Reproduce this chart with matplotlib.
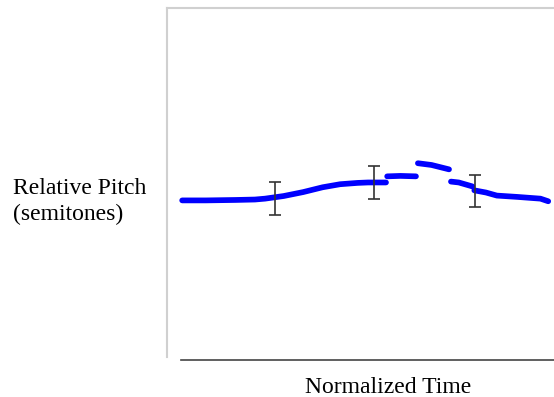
import matplotlib
matplotlib.use("Agg")
import matplotlib.pyplot as plt

# pitch contour pieces (normalized time, semitones)
seg1_t = [0.039, 0.100, 0.177, 0.226, 0.252, 0.300, 0.350, 0.400, 0.445, 0.490, 0.517, 0.563]
seg1_p = [-0.40, -0.40, -0.39, -0.38, -0.36, -0.30, -0.21, -0.10, -0.03, 0.00, 0.01, 0.01]
seg2_t = [0.566, 0.600, 0.640]
seg2_p = [0.15, 0.16, 0.15]
seg3_t = [0.645, 0.680, 0.725]
seg3_p = [0.45, 0.41, 0.31]
seg4_t = [0.730, 0.750, 0.785]
seg4_p = [0.03, 0.01, -0.08]
seg5_t = [0.790, 0.820, 0.848, 0.900, 0.960, 0.980]
seg5_p = [-0.17, -0.22, -0.29, -0.32, -0.36, -0.42]

err_t = [0.278, 0.532, 0.792]
err_p = [-0.36, 0.01, -0.19]
err_size = [0.37, 0.37, 0.37]

fig = plt.figure(figsize=(5.54, 3.97), dpi=100)
ax = fig.add_axes([167 / 554, 37 / 397, 389 / 554, 352 / 397])

for t, p in [(seg1_t, seg1_p), (seg2_t, seg2_p), (seg3_t, seg3_p),
             (seg4_t, seg4_p), (seg5_t, seg5_p)]:
    ax.plot(t, p, color="#0000ff", lw=4.1, solid_capstyle="round", zorder=2)

ax.errorbar(err_t, err_p, yerr=err_size, fmt="none", ecolor="#333333",
            elinewidth=1.2, capsize=4, capthick=1.2, zorder=3)

ax.set_xlim(0, 1)
ax.set_ylim(-4.05, 4.0)
ax.set_xticks([])
ax.set_yticks([])

for side in ["left", "top", "right"]:
    ax.spines[side].set_color("#d0d0d0")
    ax.spines[side].set_linewidth(1.5)
ax.spines["left"].set_bounds(-3.98, 4.0)
ax.spines["bottom"].set_color("#444444")
ax.spines["bottom"].set_linewidth(1.2)
ax.spines["bottom"].set_bounds(0.036, 1)

serif = ["Liberation Serif", "DejaVu Serif"]
fig.text(13 / 554, 1 - 202 / 397, "Relative Pitch\n(semitones)", family=serif,
         fontsize=17, ha="left", va="center", linespacing=1.3)
fig.text(388 / 554, 1 - 393 / 397, "Normalized Time", family=serif,
         fontsize=17, ha="center", va="baseline")

fig.savefig("out.png", dpi=100)
